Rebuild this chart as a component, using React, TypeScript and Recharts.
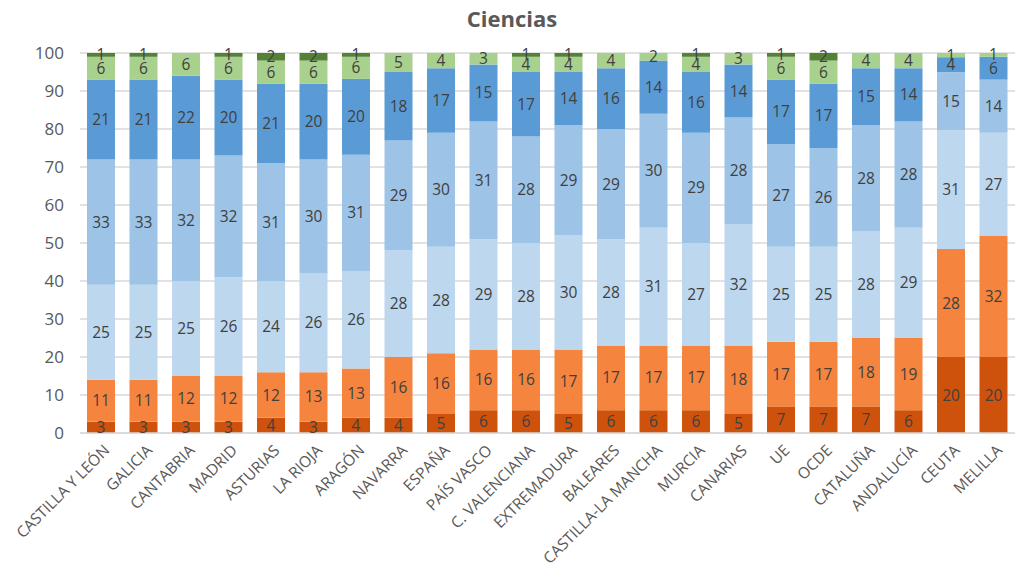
import { BarChart, Bar, XAxis, YAxis, CartesianGrid, LabelList } from 'recharts';

const categories = [
  'CASTILLA Y LEÓN', 'GALICIA', 'CANTABRIA', 'MADRID', 'ASTURIAS', 'LA RIOJA', 'ARAGÓN',
  'NAVARRA', 'ESPAÑA', 'PAÍS VASCO', 'C. VALENCIANA', 'EXTREMADURA', 'BALEARES',
  'CASTILLA-LA MANCHA', 'MURCIA', 'CANARIAS', 'UE', 'OCDE', 'CATALUÑA', 'ANDALUCÍA',
  'CEUTA', 'MELILLA',
];

// bottom to top
const nivel1 = [3, 3, 3, 3, 4, 3, 4, 4, 5, 6, 6, 5, 6, 6, 6, 5, 7, 7, 7, 6, 20, 20];
const nivel2 = [11, 11, 12, 12, 12, 13, 13, 16, 16, 16, 16, 17, 17, 17, 17, 18, 17, 17, 18, 19, 28.4, 32];
const nivel3 = [25, 25, 25, 26, 24, 26, 25.6, 28, 28, 29, 28, 30, 28, 31, 27, 32, 25, 25, 28, 29, 31.3, 27];
const nivel4 = [33, 33, 32, 32, 31, 30, 30.6, 29, 30, 31, 28, 29, 29, 30, 29, 28, 27, 26, 28, 28, 15.2, 14];
const nivel5 = [21, 21, 22, 20, 21, 20, 20, 18, 17, 15, 17, 14, 16, 14, 16, 14, 17, 17, 15, 14, 4, 6];
const nivel6 = [6, 6, 6, 6, 6, 6, 5.8, 5, 4, 3, 4, 4, 4, 2, 4, 3, 6, 6, 4, 4, 1.1, 1];
const nivel7 = [1, 1, 0, 1, 2, 2, 1, 0, 0, 0, 1, 1, 0, 0, 1, 0, 1, 2, 0, 0, 0, 0];

const yTicks = [0, 10, 20, 30, 40, 50, 60, 70, 80, 90, 100];

const series = [
  { key: 'n1', values: nivel1, color: '#CF520C' },
  { key: 'n2', values: nivel2, color: '#F5843F' },
  { key: 'n3', values: nivel3, color: '#BDD7EE' },
  { key: 'n4', values: nivel4, color: '#9DC3E6' },
  { key: 'n5', values: nivel5, color: '#5B9BD5' },
  { key: 'n6', values: nivel6, color: '#A9D18E' },
  { key: 'n7', values: nivel7, color: '#548235' },
];

const data = categories.map((name, i) => {
  const row: Record<string, string | number> = { name };
  series.forEach(s => { row[s.key] = s.values[i]; });
  return row;
});

const FONT = '"Open Sans", "Liberation Sans", sans-serif';

const CategoryTick = (props: { x?: number; y?: number; payload?: { value: string } }) => {
  const { x = 0, y = 0, payload } = props;
  return (
    <g transform={`translate(${x + 3},${y + 4})`}>
      <text
        x={0}
        y={0}
        dy={9}
        textAnchor="end"
        transform="rotate(-45)"
        fill="#595959"
        fontSize={15.5}
        fontFamily={FONT}
      >
        {payload?.value}
      </text>
    </g>
  );
};

const formatLabel = (v: unknown) => {
  const n = Number(v);
  if (!n) return '';
  return String(Math.round(n));
};

export default function App() {
  return (
    <div style={{ position: 'absolute', left: 0, top: 0, width: 1024, height: 568, background: '#fff' }}>
      <div
        style={{
          position: 'absolute',
          top: 3,
          width: 1024,
          textAlign: 'center',
          fontFamily: FONT,
          fontWeight: 'bold',
          fontSize: 22,
          color: '#595959',
        }}
      >
        Ciencias
      </div>
      <BarChart
        width={1024}
        height={568}
        data={data}
        margin={{ top: 53, right: 9, bottom: 0, left: 0 }}
        barSize={28}
      >
        <CartesianGrid vertical={false} stroke="#D9D9D9" strokeWidth={1.5} />
        <XAxis
          dataKey="name"
          interval={0}
          height={135}
          tick={<CategoryTick />}
          tickLine={false}
          axisLine={{ stroke: '#D9D9D9', strokeWidth: 1.5 }}
        />
        <YAxis
          width={80}
          domain={[0, 100]}
          ticks={yTicks}
          tickLine={false}
          axisLine={false}
          tick={{ fill: '#595959', fontSize: 17, fontFamily: FONT }}
          tickMargin={10}
        />
        {series.map(s => (
          <Bar key={s.key} dataKey={s.key} stackId="a" fill={s.color} isAnimationActive={false}>
            <LabelList
              dataKey={s.key}
              position="center"
              formatter={formatLabel}
              fill="#404040"
              fontSize={15.5}
              fontFamily={FONT}
            />
          </Bar>
        ))}
      </BarChart>
    </div>
  );
}
